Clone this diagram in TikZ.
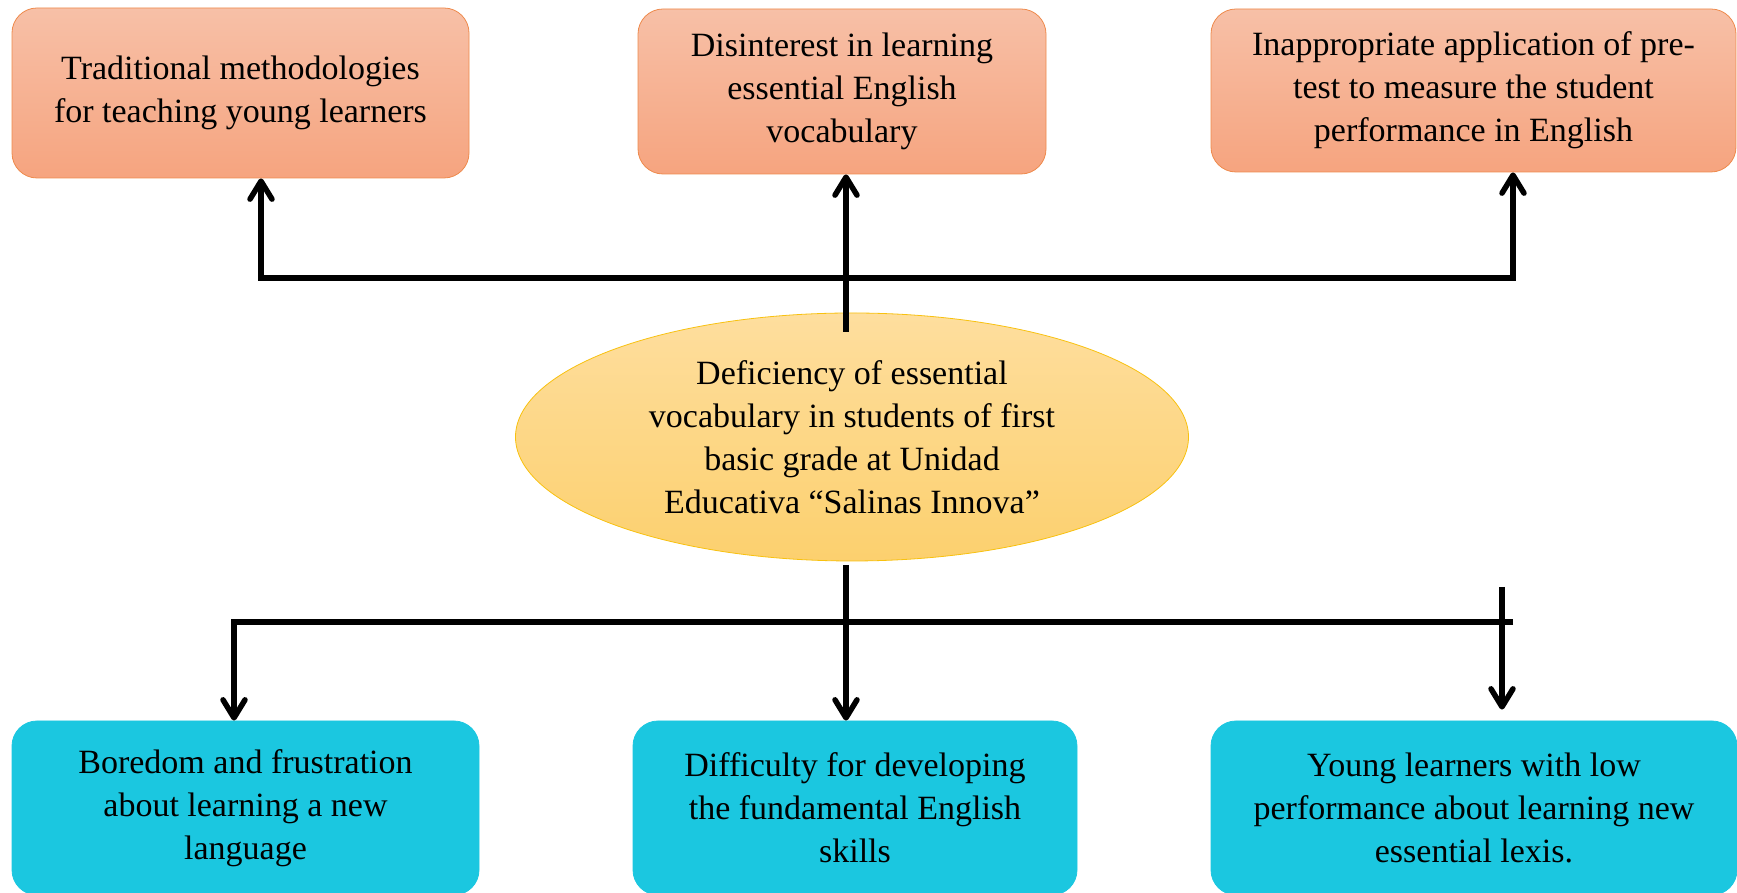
\documentclass[tikz,border=0pt]{standalone}
\usepackage{fontspec}
\setmainfont{Liberation Serif}
\usetikzlibrary{shapes.geometric,arrows.meta}

\definecolor{causetop}{HTML}{F7C0A7}
\definecolor{causebot}{HTML}{F6A47F}
\definecolor{causeline}{HTML}{EE8A4C}
\definecolor{effectfill}{HTML}{1BC7E0}
\definecolor{probtop}{HTML}{FEDE9E}
\definecolor{probbot}{HTML}{FCD06E}
\definecolor{probline}{HTML}{F8C10F}

\begin{document}
\begin{tikzpicture}[x=0.5pt,y=0.5pt,>={Straight Barb[length=9pt,width=11pt,round]},
		font=\fontsize{17}{21.5}\selectfont,
		cause/.style={draw=causeline,top color=causetop,bottom color=causebot,
			rounded corners=12.5pt,align=center,inner sep=0pt},
		effect/.style={draw=effectfill,fill=effectfill,
			rounded corners=12.5pt,align=center,inner sep=0pt},
		problem/.style={ellipse,draw=probline,top color=probtop,bottom color=probbot,inner sep=0pt},
		link/.style={line width=2.75pt}]
		% fix the size of the page
		\useasboundingbox (0,0) rectangle (1737,893);

		% the causes on top
		\node[cause,minimum width=228.5pt,minimum height=85pt] (c1) at (240.5,800)
			{Traditional methodologies\\for teaching young learners};
		\node[cause,minimum width=204pt,minimum height=82.5pt] (c2) at (842,801.5)
			{Disinterest in learning\\essential English\\vocabulary};
		\node[cause,minimum width=262.5pt,minimum height=81.5pt] (c3) at (1473.5,802.5)
			{Inappropriate application of pre-\\test to measure the student\\performance in English};

		% the problem in the middle
		\node[problem,minimum width=336.5pt,minimum height=124pt] (prob) at (852,456) {};
		\node[align=center] (probtext) at (prob.center)
			{Deficiency of essential\\vocabulary in students of first\\basic grade at Unidad\\Educativa “Salinas Innova”};

		% the effects at the bottom
		\node[effect,minimum width=233.5pt,minimum height=87pt] (e1) at (245.5,85)
			{Boredom and frustration\\about learning a new\\language};
		\node[effect,minimum width=222pt,minimum height=87pt] (e2) at (855,85)
			{Difficulty for developing\\the fundamental English\\skills};
		\node[effect,minimum width=263pt,minimum height=87pt] (e3) at (1474,85)
			{Young learners with low\\performance about learning new\\essential lexis.};

		% connectors up to the causes
		\coordinate (tl) at (261,615);
		\coordinate (tr) at (1513,615);
		\coordinate (mt) at (846,561);
		\draw[link,<->] (tl |- c1.south) -- (tl) -- (tr) -- (tr |- c3.south);
		\draw[link,->] (mt) -- (mt |- c2.south);

		% connectors down to the effects
		\coordinate (bl) at (234,271);
		\coordinate (br) at (1513,271);
		\coordinate (mb) at (846,328);
		\coordinate (rb) at (1502,306);
		\draw[link,->] (br) -- (bl) -- (bl |- e1.north);
		\draw[link,->] (mb) -- (mb |- e2.north);
		\draw[link,->,shorten >=5.5pt] (rb) -- (rb |- e3.north);
	\end{tikzpicture}
\end{document}
